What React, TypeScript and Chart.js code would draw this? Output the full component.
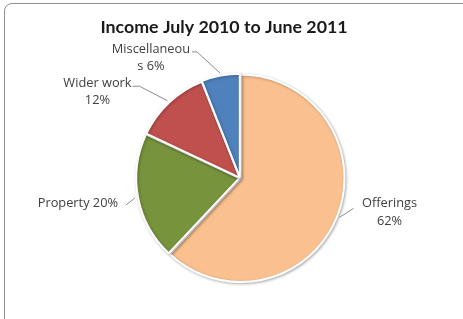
import React, { useEffect, useRef } from "react";
import { Chart, registerables } from "chart.js";

Chart.register(...registerables);

const title = "Income July 2010 to June 2011";
const categories = ["Offerings", "Property", "Wider work", "Miscellaneous"];
const values = [62, 20, 12, 6];
const colors = ["#FAC090", "#77933C", "#C0504D", "#4F81BD"];
const sliceOffsets = [3, 3, 2, 3];

// label placement relative to the slice's outer edge point (mid-angle)
const labelLayout = [
  { wrap: "newline", text: [50, -14], elbow: [14, -9], tail: 0 },
  { wrap: "inline", text: [-57, 5], elbow: [-9, 7], tail: 0 },
  { wrap: "newline", text: [-70, -17.5], elbow: [-28, -14.5], tail: -7 },
  { wrap: 12, text: [-69, -24], elbow: [-23, -21], tail: -5 },
];

const LABEL_FONT = "12.8px 'Open Sans'";
const LINE_H = 17.5;

function labelLines(i: number, name: string, pct: string): string[] {
  const w = labelLayout[i].wrap;
  if (w === "newline") return [name, pct];
  if (w === "inline") return [name + " " + pct];
  const n = w as number;
  return [name.slice(0, n), name.slice(n) + " " + pct];
}

const shadowPlugin = {
  id: "sliceShadow",
  beforeDatasetsDraw(chart: any) {
    const c = chart.ctx;
    c.save();
    c.shadowColor = "rgba(0,0,0,0.28)";
    c.shadowBlur = 3;
    c.shadowOffsetX = 1;
    c.shadowOffsetY = 1;
  },
  afterDatasetsDraw(chart: any) {
    chart.ctx.restore();
  },
};

const labelPlugin = {
  id: "pieLabels",
  afterDraw(chart: any) {
    const c = chart.ctx;
    const meta = chart.getDatasetMeta(0);
    const total = values.reduce((a, b) => a + b, 0);
    c.save();
    // title
    c.font = "bold 17.8px Lato";
    c.fillStyle = "#1a1a1a";
    c.textAlign = "center";
    c.textBaseline = "middle";
    c.fillText(title, 224, 27);

    meta.data.forEach((arc: any, i: number) => {
      const p = arc.getProps(["x", "y", "startAngle", "endAngle", "outerRadius"], true);
      const off = arc.options.offset || 0;
      const mid = (p.startAngle + p.endAngle) / 2;
      const ax = p.x + Math.cos(mid) * (p.outerRadius + off + 1);
      const ay = p.y + Math.sin(mid) * (p.outerRadius + off + 1);
      const L = labelLayout[i];
      const ex = ax + L.elbow[0];
      const ey = ay + L.elbow[1];
      c.strokeStyle = "#8c8c8c";
      c.lineWidth = 1;
      c.beginPath();
      c.moveTo(ax, ay);
      c.lineTo(ex, ey);
      if (L.tail) c.lineTo(ex + L.tail, ey);
      c.stroke();

      const pct = Math.round((values[i] / total) * 100) + "%";
      const lines = labelLines(i, categories[i], pct);
      c.font = LABEL_FONT;
      c.fillStyle = "#404040";
      c.textAlign = "center";
      c.textBaseline = "middle";
      lines.forEach((t, k) => {
        c.fillText(t, ax + L.text[0], ay + L.text[1] + k * LINE_H);
      });
    });
    c.restore();
  },
};

export default function App() {
  const ref = useRef<HTMLCanvasElement | null>(null);
  useEffect(() => {
    document.body.style.margin = "0";
    const chart = new Chart(ref.current as HTMLCanvasElement, {
      type: "pie",
      data: {
        labels: categories,
        datasets: [
          {
            data: values,
            backgroundColor: colors,
            borderColor: "#ffffff",
            borderWidth: 2,
            offset: sliceOffsets,
            hoverOffset: 0,
          } as any,
        ],
      },
      options: {
        responsive: false,
        animation: false,
        layout: { padding: { left: 134.5, right: 117.5, top: 72.5, bottom: 35.5 } },
        plugins: {
          legend: { display: false },
          title: { display: false },
          tooltip: { enabled: false },
        },
      },
      plugins: [shadowPlugin, labelPlugin],
    });
    return () => chart.destroy();
  }, []);
  return (
    <div style={{ position: "relative", width: 463, height: 319, overflow: "hidden", background: "#fff" }}>
      <div
        style={{
          position: "absolute",
          left: 4,
          top: 3,
          width: 490,
          height: 340,
          border: "1.5px solid #8f8f8f",
          borderRadius: 8,
          boxSizing: "border-box",
        }}
      />
      <canvas ref={ref} width={463} height={319} style={{ position: "absolute", left: 0, top: 0 }} />
    </div>
  );
}
